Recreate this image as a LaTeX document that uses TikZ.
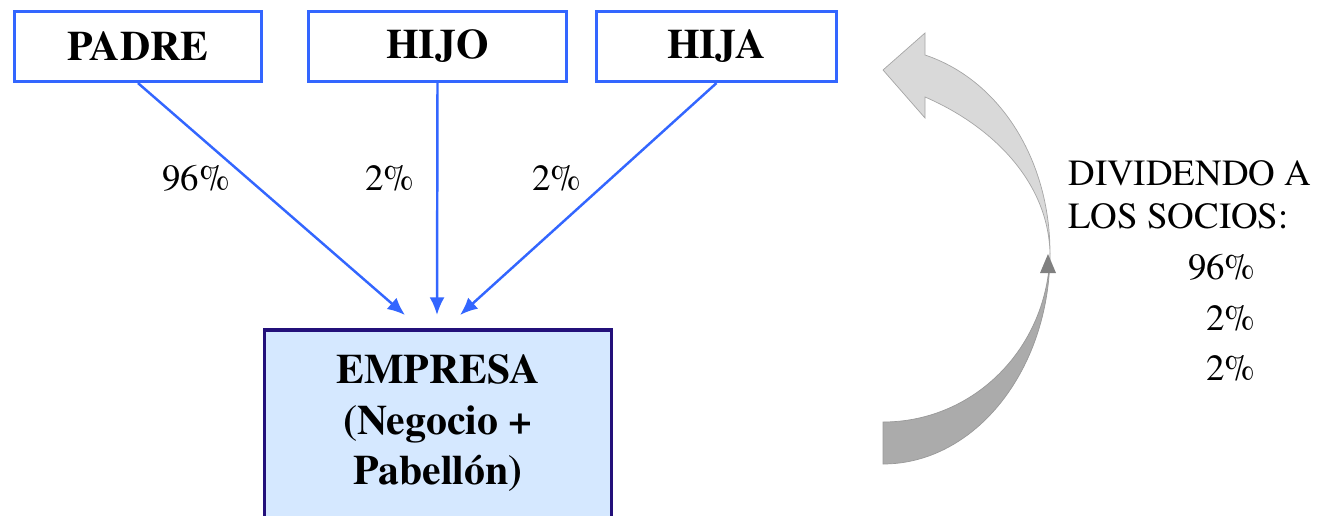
\documentclass[tikz,border=0pt]{standalone}
\usepackage{fontspec}
\setmainfont{texgyretermes}[Extension=.otf, UprightFont=*-regular, BoldFont=*-bold,
  ItalicFont=*-italic, BoldItalicFont=*-bolditalic]
\usetikzlibrary{arrows.meta}

\definecolor{boxblue}{HTML}{3366FF}
\definecolor{empresafill}{HTML}{D5E8FF}
\definecolor{empresaline}{HTML}{23107A}
\definecolor{darkarc}{HTML}{ABABAB}
\definecolor{lightarc}{HTML}{D9D9D9}

\begin{document}
\begin{tikzpicture}[x=0.02cm, y=-0.02cm,
    partner/.style={draw=boxblue, line width=1.8pt, minimum height=1.4cm, inner sep=0pt,
      font=\fontsize{23.8}{28.9}\selectfont\bfseries},
    share/.style={draw=boxblue, line width=1.4pt, -{Latex[length=10pt,width=8.5pt]}},
    pct/.style={font=\fontsize{21}{25}\selectfont, inner sep=0pt}]
  \useasboundingbox (0,0) rectangle (1319,515);

  % Partners
  \node[partner, minimum width=4.94cm] (padre) at (138,46.5)   {PADRE};
  \node[partner, minimum width=5.16cm] (hijo)  at (437.5,46.5) {HIJO};
  \node[partner, minimum width=4.80cm] (hija)  at (716.5,46.5) {HIJA};

  % Company
  \node[partner, draw=empresaline, fill=empresafill, line width=2pt, minimum width=6.94cm, minimum height=0pt,
        inner ysep=14pt, align=center, text depth=4cm, anchor=north]
        (empresa) at (438,328) {EMPRESA\\(Negocio +\\Pabellón)};

  % Shares
  \coordinate (inP) at (405,315);
  \coordinate (inH) at (437,315);
  \coordinate (inJ) at (460,315);
  \draw[share] (padre.south) -- (inP);
  \draw[share] (hijo.south)  -- (inH);
  \draw[share] (hija.south)  -- (inJ);
  \node[pct] (pP) at (196,178) {96\%};
  \node[pct] (pH) at (390,178) {2\%};
  \node[pct] (pJ) at (557,178) {2\%};

  % Dividend arrow
  \filldraw[fill=darkarc, draw=gray!80] (883,464) .. controls (975,464) and (1050,370) .. (1050,253)
    .. controls (1048,348) and (974,422) .. (883,422) -- cycle;
  \filldraw[fill=lightarc, draw=gray!70] (1050,253) .. controls (1050,160) and (1000,80) .. (925,55)
    -- (925,33) -- (883,70) -- (925,118) -- (925,97) .. controls (990,125) and (1048,180) .. (1050,253) -- cycle;
  \fill[gray] (1040,273) -- (1048,254) -- (1056,273) -- cycle;

  % Dividend text
  \node[pct, anchor=base west] (div1) at (1068,185) {DIVIDENDO A};
  \node[pct, anchor=base west] (div2) at (1068,228) {LOS SOCIOS:};
  \node[pct, anchor=base east] (dP) at (1256,279) {96\%};
  \node[pct, anchor=base east] (dH) at (1256,330) {2\%};
  \node[pct, anchor=base east] (dJ) at (1256,380) {2\%};
\end{tikzpicture}
\end{document}
